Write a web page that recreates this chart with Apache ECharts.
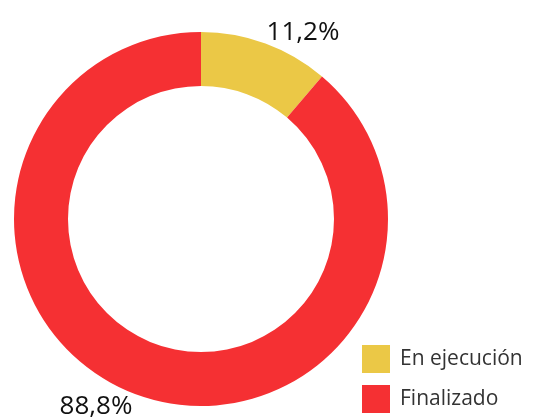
<!DOCTYPE html>
<html><head><meta charset="utf-8">
<script src="https://cdn.jsdelivr.net/npm/echarts@6/dist/echarts.min.js"></script>
<style>html,body{margin:0;padding:0;background:#fff}#c{width:539px;height:419px}</style>
</head><body><div id="c"></div>
<script>
var categories = ['En ejecución', 'Finalizado'];
var values = [11.2, 88.8];
var labels = ['11,2%', '88,8%'];
var colors = ['#EBC846', '#F53033'];
var labelPos = [[303, 33], [96, 407]];

var chart = echarts.init(document.getElementById('c'), null, {renderer: 'canvas'});
chart.setOption({
  animation: false,
  legend: {
    orient: 'vertical', left: 362, top: 345, height: 74,
    padding: 0,
    itemWidth: 28, itemHeight: 28, itemGap: 12,
    icon: 'rect',
    textStyle: {fontFamily: 'Open Sans', fontSize: 21, color: '#333', padding: [0, 0, 0, 5]},
    data: categories
  },
  series: [{
    type: 'pie',
    center: [201, 219],
    radius: [133, 187],
    startAngle: 90,
    clockwise: true,
    avoidLabelOverlap: false,
    label: {
      show: true, position: 'outside',
      formatter: function (p) { return labels[p.dataIndex]; },
      fontFamily: 'Open Sans', fontSize: 26, color: '#111'
    },
    labelLine: {show: false},
    labelLayout: function (p) {
      var pos = labelPos[p.dataIndex];
      return {x: pos[0], y: pos[1], align: 'center', verticalAlign: 'middle'};
    },
    emphasis: {disabled: true},
    data: categories.map(function (c, i) {
      return {name: c, value: values[i], itemStyle: {color: colors[i]}};
    })
  }]
});
</script></body></html>
